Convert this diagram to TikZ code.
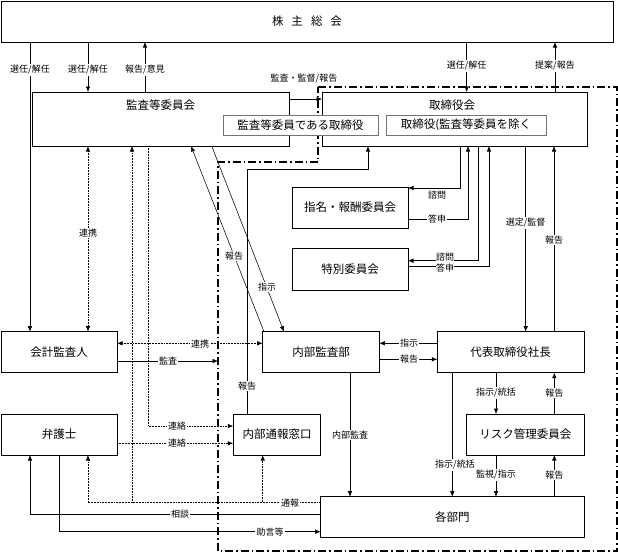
\documentclass[tikz,border=0pt]{standalone}
\usepackage{fontspec}
\setmainfont{Noto Sans CJK JP}
\usetikzlibrary{arrows.meta}
\begin{document}
\begin{tikzpicture}[x=1pt,y=-1pt,
  box/.style={draw, line width=0.8pt, inner sep=0pt, outer sep=0pt, fill=white, font=\fontsize{11.5}{13}\selectfont},
  ibox/.style={draw=black!55, line width=0.8pt, inner sep=0pt, outer sep=0pt, fill=white, font=\fontsize{11.5}{13}\selectfont},
  btext/.style={inner sep=0pt, font=\fontsize{11.5}{13}\selectfont},
  conn/.style={line width=0.55pt},
  arr/.style={-{Latex[length=5.5pt,width=4.5pt]}},
  darr/.style={{Latex[length=5.5pt,width=4.5pt]}-{Latex[length=5.5pt,width=4.5pt]}},
  dotline/.style={densely dotted, line width=0.7pt},
  lbl/.style={fill=white, inner sep=1.2pt, font=\fontsize{9}{10}\selectfont},
  tlbl/.style={fill=white, inner sep=0.3pt, font=\fontsize{9}{10}\selectfont},
  dashregion/.style={line width=1.3pt, dash pattern=on 8pt off 3pt on 1.5pt off 3pt}
]
\useasboundingbox (0,0) rectangle (618,555);

% boxes
\node[box, minimum width=612pt, minimum height=41pt] (gm) at (307,21.5) {株\hspace{8pt}主\hspace{8pt}総\hspace{8pt}会};
\node[box, minimum width=257pt, minimum height=54pt] (ac) at (160.5,119) {};
\node[btext] (act) at (160.5,105) {監査等委員会};
\node[box, minimum width=265pt, minimum height=54pt] (bd) at (454.5,119) {};
\node[btext] (bdt) at (452,105) {取締役会};

% dash-dot region
\draw[dashregion] (318,87) -- (617,87) -- (617,551) -- (218,551) -- (218,162) -- (318,162) -- cycle;

\node[ibox, minimum width=155pt, minimum height=20pt] (ib1) at (300.5,125) {監査等委員である取締役};
\node[ibox, minimum width=160pt, minimum height=20pt] (ib2) at (466,125) {取締役(監査等委員を除く};

\node[box, minimum width=116pt, minimum height=41pt] (nom) at (350,207.5) {指名・報酬委員会};
\node[box, minimum width=116pt, minimum height=42pt] (spc) at (350,269) {特別委員会};
\node[box, minimum width=116pt, minimum height=41pt] (aud) at (59,352.2) {会計監査人};
\node[box, minimum width=116pt, minimum height=41pt] (law) at (59,434.5) {弁護士};
\node[box, minimum width=116.6pt, minimum height=41pt] (ia) at (321,352.2) {内部監査部};
\node[box, minimum width=146.7pt, minimum height=41pt] (ceo) at (510.7,352.2) {代表取締役社長};
\node[box, minimum width=87.4pt, minimum height=41pt] (wb) at (277,434.5) {内部通報窓口};
\node[box, minimum width=117.3pt, minimum height=41pt] (risk) at (525.3,434.5) {リスク管理委員会};
\node[box, minimum width=263.3pt, minimum height=41pt] (dep) at (452.3,517.2) {各部門};

\coordinate (audend) at (218,361);

% shareholders connections
\draw[conn,arr] (30,0 |- gm.south) -- (30,0 |- aud.north);
\draw[conn,arr] (88,0 |- gm.south) -- (88,0 |- ac.north);
\draw[conn,arr] (145,0 |- ac.north) -- (145,0 |- gm.south);
\draw[conn,arr] (466.7,0 |- gm.south) -- (466.7,0 |- bd.north);
\draw[conn,arr] (555,0 |- bd.north) -- (555,0 |- gm.south);
\node[lbl] (l1) at (30,70) {選任/解任};
\node[lbl] (l2) at (88,70) {選任/解任};
\node[lbl] (l3) at (145,70) {報告/意見};
\node[lbl] (l4) at (466.7,66) {選任/解任};
\node[lbl] (l5) at (555,66) {提案/報告};

% audit committee -> board
\draw[conn,arr] (ac.east |- 0,99) -- (bd.west |- 0,99);
\node[lbl] (l6) at (304,79) {監査・監督/報告};

% whistleblowing report to board
\draw[conn,arr] (247,0 |- wb.north) -- (247,169) -- (368,169) -- (368,0 |- bd.south);
\node[lbl] (l7) at (247,386) {報告};

% committees
\draw[conn,arr] (460,0 |- bd.south) |- (nom.east |- 0,188);
\draw[conn,arr] (nom.east |- 0,219) -| (468,0 |- bd.south);
\draw[conn,arr] (478,0 |- bd.south) |- (spc.east |- 0,260.7);
\draw[conn,arr] (spc.east |- 0,266) -| (489,0 |- bd.south);
\node[lbl] (l8) at (437,195) {諮問};
\node[lbl] (l9) at (437,219) {答申};
\node[tlbl] (l10) at (445,257.5) {諮問};
\node[tlbl] (l11) at (445,268.5) {答申};

% board <-> president
\draw[conn,arr] (525.7,0 |- bd.south) -- (525.7,0 |- ceo.north);
\draw[conn,arr] (554,0 |- ceo.north) -- (554,0 |- bd.south);
\node[lbl] (l12) at (525.7,223) {選定/監督};
\node[lbl] (l13) at (554,240) {報告};

% audit committee <-> internal audit
\draw[conn,arr] (264,0 |- ia.north) -- (191,0 |- ac.south);
\draw[conn,arr] (211.7,0 |- ac.south) -- (284,0 |- ia.north);
\node[lbl] (l14) at (234,256) {報告};
\node[lbl] (l15) at (267,287) {指示};

% audit committee <-> accounting auditor
\draw[conn,dotline,darr] (88,0 |- ac.south) -- (88,0 |- aud.north);
\node[lbl] (l16) at (88,233) {連携};

% audit committee -> whistleblowing
\draw[conn,dotline,arr] (148,0 |- ac.south) |- (wb.west |- 0,426);
\node[lbl] (l17) at (177,426) {連絡};

% accounting auditor
\draw[conn,dotline,darr] (aud.east |- 0,343.3) -- (ia.west |- 0,343.3);
\node[lbl] (l18) at (200,344) {連携};
\draw[conn,arr] (aud.east |- 0,361) -- (audend);
\node[lbl] (l19) at (168,361) {監査};

% internal audit <-> president
\draw[conn,arr] (ceo.west |- 0,343.3) -- (ia.east |- 0,343.3);
\draw[conn,arr] (ia.east |- 0,359.3) -- (ceo.west |- 0,359.3);
\node[lbl] (l20) at (409,343.3) {指示};
\node[lbl] (l21) at (409,359.3) {報告};

% to departments
\draw[conn,arr] (350,0 |- ia.south) -- (350,0 |- dep.north);
\node[lbl] (l22) at (350,435) {内部監査};
\draw[conn,arr] (452.3,0 |- ceo.south) -- (452.3,0 |- dep.north);
\node[lbl] (l23) at (455,465) {指示/統括};
\draw[conn,arr] (496,0 |- ceo.south) -- (496,0 |- risk.north);
\node[lbl] (l24) at (496,393) {指示/統括};
\draw[conn,arr] (554.3,0 |- risk.north) -- (554.3,0 |- ceo.south);
\node[lbl] (l25) at (554.3,393) {報告};
\draw[conn,arr] (496,0 |- risk.south) -- (496,0 |- dep.north);
\node[lbl] (l26) at (496,475) {監視/指示};
\draw[conn,arr] (554.3,0 |- dep.north) -- (554.3,0 |- risk.south);
\node[lbl] (l27) at (554.3,475) {報告};

% lawyer -> whistleblowing
\draw[conn,dotline,arr] (law.east |- 0,443.3) -- (wb.west |- 0,443.3);
\node[lbl] (l28) at (177,443.3) {連絡};

% reporting from departments
\draw[conn,dotline,arr] (dep.west |- 0,502.7) -| (88,0 |- law.south);
\draw[conn,dotline,arr] (dep.west |- 0,502.7) -| (132,0 |- ac.south);
\draw[conn,dotline,arr] (dep.west |- 0,502.7) -| (262.7,0 |- wb.south);
\node[lbl] (l29) at (290,502.7) {通報};

\draw[conn,arr] (dep.west |- 0,514) -| (30,0 |- law.south);
\node[lbl] (l30) at (180,514) {相談};
\draw[conn,arr] (59.3,0 |- law.south) |- (dep.west |- 0,531.7);
\node[lbl] (l31) at (270,531.7) {助言等};

\end{tikzpicture}
\end{document}
